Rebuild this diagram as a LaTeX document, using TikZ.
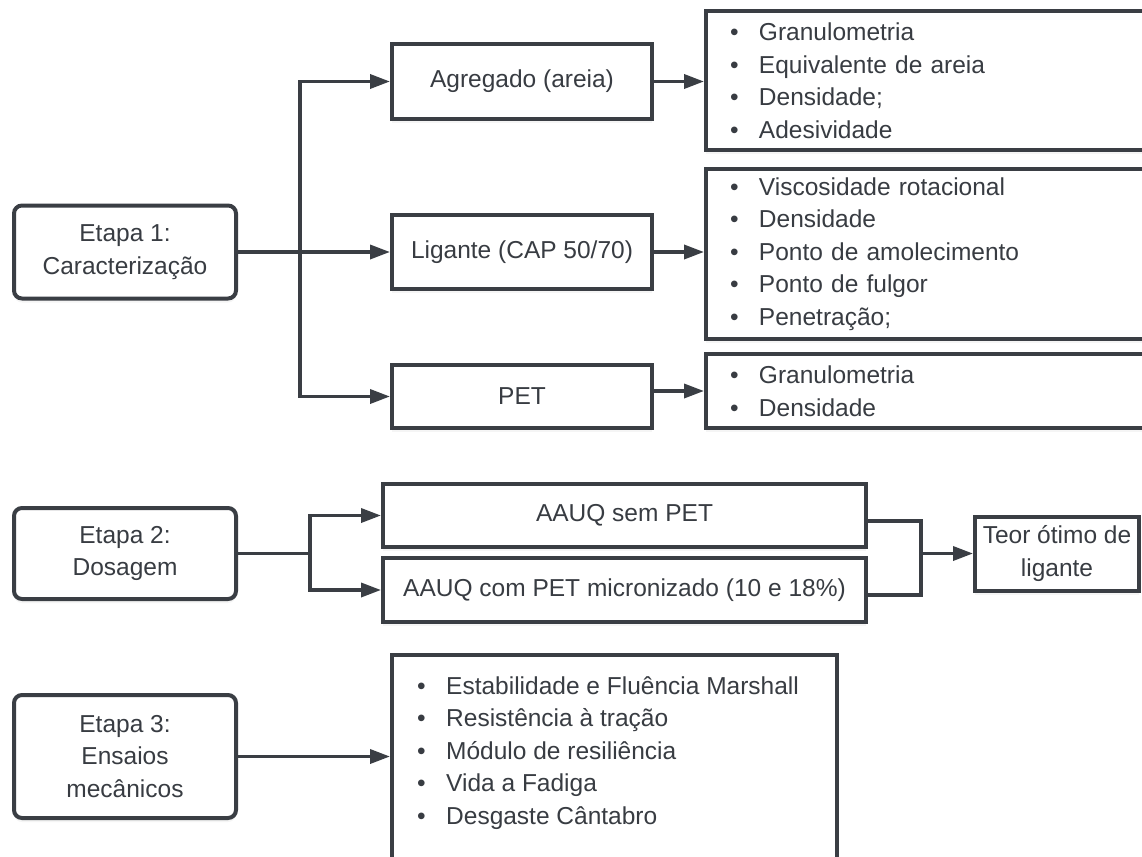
\documentclass[tikz,border=0pt]{standalone}
\usepackage{fontspec}
\setmainfont{Liberation Sans}
\usetikzlibrary{arrows.meta,shadows,calc}
\definecolor{ink}{HTML}{383C42}
\definecolor{edgec}{HTML}{3A3E44}
\newcommand\bitem[1]{\makebox[29pt][l]{\textbullet}#1}
\begin{document}
\begin{tikzpicture}[x=1pt,y=-1pt,
 every node/.style={font=\fontsize{24.5}{32.5}\selectfont, text=ink},
 box/.style={draw=edgec, line width=4pt, fill=white, inner sep=0pt, align=center,
   drop shadow={shadow xshift=0pt,shadow yshift=-4pt,opacity=0.08}},
 etapa/.style={box, rounded corners=8pt},
 listbox/.style={box, align=left, inner xsep=24pt},
 conn/.style={draw=edgec, line width=3.5pt},
 arr/.style={conn, -{Triangle[length=20pt,width=14pt]}},
]
\path[use as bounding box, fill=white] (0,0) rectangle (1142,856);
\clip (0,0) rectangle (1142,856);

% Etapa 1
\node[etapa, minimum width=222pt, minimum height=93pt] (e1) at (125,252) {Etapa 1:\\Caracterização};
\node[box, minimum width=260pt, minimum height=75pt] (agr) at (522,81.5) {Agregado (areia)};
\node[box, minimum width=260pt, minimum height=74pt] (lig) at (522,252) {Ligante (CAP 50/70)};
\node[box, minimum width=260pt, minimum height=63pt] (pet) at (522,396.5) {PET};

\node[listbox, text width=406pt, minimum height=139pt] (l1) at (933,80.5)
 {\bitem{Granulometria}\\\bitem{Equivalente de areia}\\\bitem{Densidade;}\\\bitem{Adesividade}};
\node[listbox, text width=406pt, minimum height=170pt] (l2) at (933,254)
 {\bitem{Viscosidade rotacional}\\\bitem{Densidade}\\\bitem{Ponto de amolecimento}\\\bitem{Ponto de fulgor}\\\bitem{Penetração;}};
\node[listbox, text width=406pt, minimum height=74pt] (l3) at (933,391)
 {\bitem{Granulometria}\\\bitem{Densidade}};

\coordinate (j1) at (300,252);
\draw[arr] (e1.east) -- (lig.west);
\draw[arr] (j1) |- (agr.west);
\draw[arr] (j1) |- (pet.west);
\draw[arr] (agr.east) -- (agr.east -| l1.west);
\draw[arr] (lig.east) -- (lig.east -| l2.west);
\draw[arr] (pet.east |- l3.west) -- (l3.west);

% Etapa 2
\node[etapa, minimum width=222pt, minimum height=91pt] (e2) at (125,553.5) {Etapa 2:\\Dosagem};
\node[box, minimum width=483pt, minimum height=63pt] (sem) at (624.5,515.5) {AAUQ sem PET};
\node[box, minimum width=483pt, minimum height=64pt] (com) at (624.5,590) {AAUQ com PET micronizado (10 e 18\%)};
\node[box, minimum width=164pt, minimum height=74pt] (teor) at (1057,553.5) {Teor ótimo de\\ligante};

\coordinate (j2) at (310,553.5);
\coordinate (j3) at (921,553.5);
\draw[conn] (e2.east) -- (j2);
\draw[arr] (j2) |- (sem.west);
\draw[arr] (j2) |- (com.west);
\draw[conn] ([yshift=-5.5pt]sem.east) -| (j3) |- ([yshift=-5pt]com.east);
\draw[arr] (j3) -- (teor.west);

% Etapa 3
\node[etapa, minimum width=222pt, minimum height=123pt] (e3) at (125,756.5) {Etapa 3:\\Ensaios\\mecânicos};
\node[box, minimum width=445pt, minimum height=225pt] (l4) at (614.5,767.5) {};
\node[anchor=west, align=left, inner sep=0pt] (l4t) at (417,753)
 {\bitem{Estabilidade e Fluência Marshall}\\\bitem{Resistência à tração}\\\bitem{Módulo de resiliência}\\\bitem{Vida a Fadiga}\\\bitem{Desgaste Cântabro}};
\draw[arr] (e3.east) -- (e3.east -| l4.west);
\end{tikzpicture}
\end{document}
